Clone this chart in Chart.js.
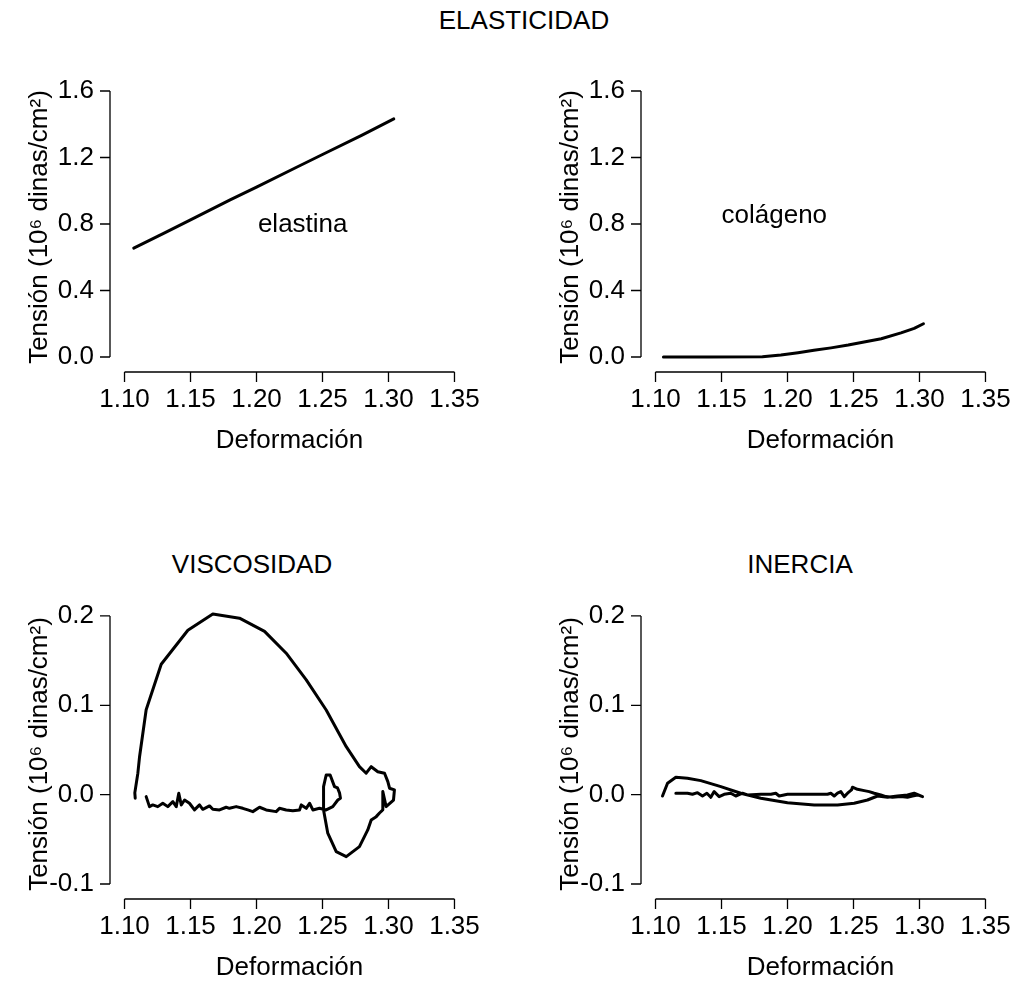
<!DOCTYPE html>
<html>
<head>
<meta charset="utf-8">
<script src="https://cdn.jsdelivr.net/npm/chart.js@4.4.1/dist/chart.umd.min.js"></script>
<style>
  body { margin: 0; background: #fff; width: 1010px; height: 983px; position: relative; overflow: hidden;
         font-family: "Liberation Sans", Arial, sans-serif; color: #000; }
  .panel { position: absolute; width: 505px; height: 470px; }
  .ttl { position: absolute; font-size: 26px; transform: translate(-50%, -50%); white-space: nowrap; }
</style>
</head>
<body>
<div class="ttl" style="left:524px;top:20px">ELASTICIDAD</div>
<div class="ttl" style="left:252px;top:564px">VISCOSIDAD</div>
<div class="ttl" style="left:800px;top:564px">INERCIA</div>

<canvas id="c-elastina" class="panel" width="505" height="470" style="left:0;top:50px"></canvas>
<canvas id="c-colageno" class="panel" width="505" height="470" style="left:531px;top:50px"></canvas>
<canvas id="c-viscosidad" class="panel" width="505" height="470" style="left:0;top:577px"></canvas>
<canvas id="c-inercia" class="panel" width="505" height="470" style="left:531px;top:577px"></canvas>

<script>
// tick values
var xTicks = [1.10, 1.15, 1.20, 1.25, 1.30, 1.35];
var yTicksTop = [0.0, 0.4, 0.8, 1.2, 1.6];
var yTicksBottom = [-0.1, 0.0, 0.1, 0.2];

// elasticidad - elastina
var elastinaX = [1.107, 1.13, 1.15, 1.18, 1.20, 1.23, 1.25, 1.28, 1.304];
var elastinaY = [0.655, 0.745, 0.825, 0.945, 1.022, 1.140, 1.218, 1.335, 1.432];

// elasticidad - colageno
var colagenoX = [1.106, 1.14, 1.181, 1.195, 1.208, 1.22, 1.233, 1.246, 1.258, 1.271, 1.286, 1.296, 1.303];
var colagenoY = [0.0, 0.0, 0.001, 0.012, 0.026, 0.040, 0.055, 0.072, 0.090, 0.110, 0.145, 0.172, 0.200];

// viscosidad
var viscosidadX = [1.1081, 1.1078, 1.1101, 1.1114, 1.1164, 1.1278, 1.1480, 1.1669, 1.1871, 1.2061, 1.2225,
  1.2377, 1.2528, 1.2680, 1.2780, 1.2831, 1.2869, 1.2919, 1.2970, 1.2995, 1.3008, 1.3045, 1.3038, 1.2982,
  1.2957, 1.2957, 1.2932, 1.2907, 1.2869, 1.2843, 1.2780, 1.2680, 1.2604, 1.2540, 1.2508, 1.2508, 1.2528,
  1.2558, 1.2591, 1.2614, 1.2629, 1.2636, 1.2616, 1.2578, 1.2528, 1.2477, 1.2427, 1.2402, 1.2377, 1.2339,
  1.2326, 1.2275, 1.2225, 1.2174, 1.2149, 1.2073, 1.2023, 1.1972, 1.1934, 1.1896, 1.1846, 1.1795, 1.1770,
  1.1720, 1.1669, 1.1644, 1.1593, 1.1568, 1.1530, 1.1492, 1.1455, 1.1430, 1.1411, 1.1392, 1.1366, 1.1328,
  1.1290, 1.1252, 1.1214, 1.1189, 1.1164];
var viscosidadY = [-0.004, 0.002, 0.024, 0.0425, 0.095, 0.146, 0.184, 0.2023, 0.1975, 0.1828, 0.1583,
  0.1284, 0.0948, 0.0537, 0.0313, 0.024, 0.0313, 0.0257, 0.024, 0.0146, 0.0072, 0.0053, -0.006, -0.0134,
  0.0035, -0.017, -0.0205, -0.0246, -0.0283, -0.0395, -0.0582, -0.0694, -0.0638, -0.0432, -0.0171, 0.009, 0.022,
  0.022, 0.009, 0.0075, 0.002, -0.004, -0.006, -0.0134, -0.0171, -0.0153, -0.0171, -0.0096, -0.0153, -0.0115,
  -0.0171, -0.0179, -0.0171, -0.0153, -0.019, -0.0171, -0.0141, -0.019, -0.0171, -0.0153, -0.0134, -0.0153, -0.0141,
  -0.0171, -0.0164, -0.0126, -0.0164, -0.0115, -0.0171, -0.0096, -0.006, -0.0115, 0.0016, -0.0134, -0.0078, -0.0134,
  -0.0096, -0.0134, -0.0115, -0.0134, -0.0022];

// inercia
var inerciaX = [1.1053, 1.1061, 1.1091, 1.1154, 1.1242, 1.1343, 1.1495, 1.1646, 1.1798, 1.2000, 1.2202,
  1.2379, 1.2505, 1.2606, 1.2682, 1.2758, 1.2833, 1.2909, 1.2960, 1.3023, 1.2985, 1.2947, 1.2909, 1.2859,
  1.2795, 1.2745, 1.2707, 1.2657, 1.2619, 1.2581, 1.2530, 1.2492, 1.2485, 1.2455, 1.2430, 1.2404, 1.2379,
  1.2354, 1.2328, 1.2303, 1.2202, 1.2101, 1.2000, 1.1937, 1.1911, 1.1874, 1.1798, 1.1697, 1.1659, 1.1608,
  1.1570, 1.1520, 1.1482, 1.1444, 1.1419, 1.1389, 1.1356, 1.1318, 1.1280, 1.1242, 1.1192, 1.1154];
var inerciaY = [-0.0015, 0.0016, 0.0128, 0.0195, 0.0184, 0.0157, 0.009, 0.0016, -0.004, -0.009, -0.0115,
  -0.0115, -0.0096, -0.006, -0.0015, -0.003, -0.0015, -0.0003, 0.0016, -0.0022, -0.0003, -0.0015, -0.003, -0.0022,
  -0.003, -0.0022, -0.0003, 0.0016, 0.0034, 0.0045, 0.006, 0.0083, 0.0053, 0.0016, -0.0022, 0.0034, 0.0016,
  -0.0015, 0.0016, 0.0004, 0.0004, 0.0004, 0.0004, -0.0015, 0.0016, 0.0004, 0.0004, -0.0003, 0.0016, -0.0015,
  0.0016, 0.0004, -0.0022, 0.0034, -0.003, 0.0016, -0.0015, 0.0022, 0.0004, 0.0016, 0.0016, 0.0016];

var yTitle = 'Tensión (10\u2076 dinas/cm\u00b2)';
var FAMILY = '"Liberation Sans", Arial, sans-serif';

function pts(xs, ys) {
  return xs.map(function (x, i) { return { x: x, y: ys[i] }; });
}

// R style detached axes: line only spans first..last tick
var rAxes = {
  id: 'rAxes',
  afterDraw: function (chart) {
    var ctx = chart.ctx, xs = chart.scales.x, ys = chart.scales.y, a = chart.chartArea;
    var xt = chart.options.plugins.rAxes.xTicks, yt = chart.options.plugins.rAxes.yTicks;
    var tl = 10;
    ctx.save();
    ctx.strokeStyle = '#000';
    ctx.lineWidth = 1.3;
    ctx.beginPath();
    var x0 = xs.getPixelForValue(xt[0]), x1 = xs.getPixelForValue(xt[xt.length - 1]);
    ctx.moveTo(x0, a.bottom); ctx.lineTo(x1, a.bottom);
    xt.forEach(function (v) {
      var p = xs.getPixelForValue(v);
      ctx.moveTo(p, a.bottom); ctx.lineTo(p, a.bottom + tl);
    });
    var y0 = ys.getPixelForValue(yt[0]), y1 = ys.getPixelForValue(yt[yt.length - 1]);
    ctx.moveTo(a.left, y0); ctx.lineTo(a.left, y1);
    yt.forEach(function (v) {
      var p = ys.getPixelForValue(v);
      ctx.moveTo(a.left, p); ctx.lineTo(a.left - tl, p);
    });
    ctx.stroke();

    var an = chart.options.plugins.rAxes.label;
    if (an) {
      ctx.fillStyle = '#000';
      ctx.font = '26px ' + FAMILY;
      ctx.textAlign = 'center';
      ctx.textBaseline = 'middle';
      ctx.fillText(an.text, xs.getPixelForValue(an.x), ys.getPixelForValue(an.y));
    }
    ctx.restore();
  }
};

function makePanel(id, data, yTicks, yMin, yMax, yDigits, label) {
  return new Chart(document.getElementById(id), {
    type: 'scatter',
    data: {
      datasets: [{
        data: data,
        showLine: true,
        borderColor: '#000',
        borderWidth: 3,
        borderJoinStyle: 'round',
        borderCapStyle: 'round',
        pointRadius: 0,
        tension: 0,
        fill: false
      }]
    },
    options: {
      responsive: false,
      animation: false,
      devicePixelRatio: 1,
      layout: { padding: { top: 32, right: 36, bottom: 0, left: 0 } },
      plugins: {
        legend: { display: false },
        tooltip: { enabled: false },
        rAxes: { xTicks: xTicks, yTicks: yTicks, label: label }
      },
      scales: {
        x: {
          type: 'linear',
          min: 1.089,
          max: 1.361,
          grid: { display: false, drawTicks: false },
          border: { display: false },
          afterBuildTicks: function (s) { s.ticks = xTicks.map(function (v) { return { value: v }; }); },
          afterFit: function (s) { s.height = 148; },
          ticks: {
            autoSkip: false,
            maxRotation: 0,
            padding: 12,
            color: '#000',
            font: { family: FAMILY, size: 26 },
            callback: function (v) { return Number(v).toFixed(2); }
          },
          title: {
            display: true,
            text: 'Deformación',
            color: '#000',
            font: { family: FAMILY, size: 26 },
            padding: { top: 0, bottom: 64 }
          }
        },
        y: {
          type: 'linear',
          min: yMin,
          max: yMax,
          grid: { display: false, drawTicks: false },
          border: { display: false },
          afterBuildTicks: function (s) { s.ticks = yTicks.map(function (v) { return { value: v }; }); },
          afterFit: function (s) { s.width = 110; },
          ticks: {
            autoSkip: false,
            padding: 16,
            color: '#000',
            font: { family: FAMILY, size: 26 },
            callback: function (v) { return Number(v).toFixed(yDigits); }
          },
          title: {
            display: true,
            text: yTitle,
            color: '#000',
            font: { family: FAMILY, size: 26 },
            padding: { top: 24, bottom: 0 }
          }
        }
      }
    },
    plugins: [rAxes]
  });
}

makePanel('c-elastina', pts(elastinaX, elastinaY), yTicksTop, -0.0902, 1.6541, 1,
  { text: 'elastina', x: 1.235, y: 0.795 });
makePanel('c-colageno', pts(colagenoX, colagenoY), yTicksTop, -0.0902, 1.6541, 1,
  { text: 'colágeno', x: 1.19, y: 0.848 });
makePanel('c-viscosidad', pts(viscosidadX, viscosidadY), yTicksBottom, -0.1168, 0.2078, 1, null);
makePanel('c-inercia', pts(inerciaX, inerciaY), yTicksBottom, -0.1168, 0.2078, 1, null);
</script>
</body>
</html>
